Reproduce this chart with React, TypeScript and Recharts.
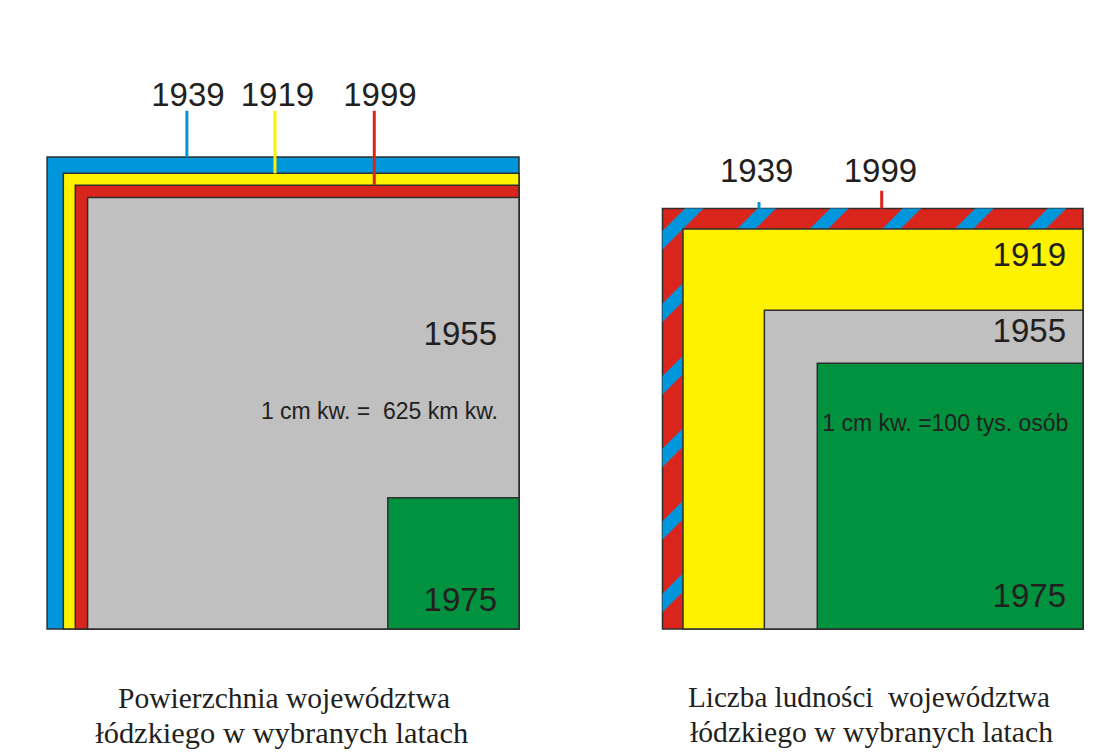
import React from 'react';
import { ComposedChart, XAxis, YAxis, ReferenceArea, ReferenceLine } from 'recharts';

// ---------- data ----------
// Area of the Łódź voivodeship (km²), drawn as squares, 1 cm² = 625 km²
const areaYears = ['1939', '1919', '1999', '1955', '1975'];
const areaKm2 = [20700, 19300, 18300, 17300, 1600];
const KM2_PER_CM2 = 625;

// Population of the Łódź voivodeship, 1 cm² = 100 000 persons
const popYears = ['1999', '1939', '1919', '1955', '1975'];
const popPersons = [2630000, 2630000, 2380000, 1510000, 1050000];
const PERSONS_PER_CM2 = 100000;

const areaNote = '1 cm kw. =  625 km kw.';
const popNote = '1 cm kw. =100 tys. osób';
const areaTitle = ['Powierzchnia województwa', 'łódzkiego w wybranych latach'];
const popTitle = ['Liczba ludności  województwa', 'łódzkiego w wybranych latach'];

// ---------- styles / layout ----------
const PX_PER_CM = 82;
const SANS = '"Liberation Sans", Arial, Helvetica, sans-serif';
const SERIF = '"Liberation Serif", "Times New Roman", serif';
const TEXT = '#231f20';
const EDGE = '#2e2e2e';
const yearColor: Record<string, string> = {
  '1939': '#0096db',
  '1919': '#fff200',
  '1999': '#da251d',
  '1955': '#c0c0c0',
  '1975': '#00923f',
};

const sideCm = (v: number, unit: number) => Math.sqrt(v / unit);

type InnerLabel = { right: number; fromTop?: number; fromBottom?: number; note?: { text: string; anchor: 'start' | 'end'; dx: number; dy: number } };
type Callout = { year: string; x: number; top: number; labelDx: number; labelGap: number };

const leftInner: Record<string, InnerLabel> = {
  '1955': { right: 22, fromTop: 147, note: { text: areaNote, anchor: 'end', dx: -21, dy: 221 } },
  '1975': { right: 22, fromBottom: 18 },
};
const rightInner: Record<string, InnerLabel> = {
  '1919': { right: 17, fromTop: 37 },
  '1955': { right: 17, fromTop: 32 },
  '1975': { right: 17, fromBottom: 22, note: { text: popNote, anchor: 'start', dx: 5, dy: 68 } },
};
const leftCallouts: Callout[] = [
  { year: '1939', x: -4.05, top: 6.32, labelDx: 1, labelGap: 4.7 },
  { year: '1919', x: -2.976, top: 6.32, labelDx: 2.5, labelGap: 4.7 },
  { year: '1999', x: -1.765, top: 6.32, labelDx: 5.7, labelGap: 4.7 },
];
const rightCallouts: Callout[] = [
  { year: '1939', x: -3.951, top: 5.207, labelDx: -2.3, labelGap: 19.7 },
  { year: '1999', x: -2.455, top: 5.345, labelDx: -1.2, labelGap: 8.4 },
];

const innerLabel = (year: string, cfg?: InnerLabel) => (props: any) => {
  const vb = props && props.viewBox;
  if (!vb || !cfg) return null;
  const y = cfg.fromTop != null ? vb.y + cfg.fromTop : vb.y + vb.height - (cfg.fromBottom || 0);
  return (
    <g>
      <text x={vb.x + vb.width - cfg.right} y={y} textAnchor="end" fontFamily={SANS} fontSize={33} fill={TEXT}>
        {year}
      </text>
      {cfg.note ? (
        <text
          x={cfg.note.anchor === 'end' ? vb.x + vb.width + cfg.note.dx : vb.x + cfg.note.dx}
          y={vb.y + cfg.note.dy}
          textAnchor={cfg.note.anchor}
          fontFamily={SANS}
          fontSize={23}
          fill={TEXT}
          style={{ whiteSpace: 'pre' }}
        >
          {cfg.note.text}
        </text>
      ) : null}
    </g>
  );
};

const calloutLabel = (c: Callout) => (props: any) => {
  const vb = props && props.viewBox;
  if (!vb) return null;
  return (
    <text x={vb.x + c.labelDx} y={vb.y - c.labelGap} textAnchor="middle" fontFamily={SANS} fontSize={33} fill={TEXT}>
      {c.year}
    </text>
  );
};

function Panel(props: {
  years: string[];
  values: number[];
  unit: number;
  width: number;
  plotW: number;
  plotH: number;
  inner: Record<string, InnerLabel>;
  callouts: Callout[];
  striped?: string;
}) {
  const { years, values, unit, width, plotW, plotH, inner, callouts, striped } = props;
  const sides = values.map((v) => sideCm(v, unit));
  const sideOf: Record<string, number> = {};
  years.forEach((y, i) => (sideOf[y] = sides[i]));
  const data = years.map((y, i) => ({ x: -sides[i], y: sides[i] }));
  return (
    <ComposedChart
      width={width}
      height={754}
      data={data}
      margin={{ top: 0, left: 0, right: width - plotW, bottom: 754 - plotH }}
    >
      <XAxis type="number" dataKey="x" domain={[-plotW / PX_PER_CM, 0]} allowDataOverflow hide />
      <YAxis type="number" dataKey="y" domain={[0, plotH / PX_PER_CM]} allowDataOverflow hide />
      {years.map((y, i) => (
        <ReferenceArea
          key={y}
          x1={-sides[i]}
          x2={0}
          y1={0}
          y2={sides[i]}
          fill={y === striped ? `url(#stripes${y})` : yearColor[y]}
          fillOpacity={1}
          stroke={y === striped ? 'none' : EDGE}
          strokeWidth={1.5}
          isAnimationActive={false}
          label={inner[y] ? innerLabel(y, inner[y]) : undefined}
        />
      ))}
      {callouts.map((c) => (
        <ReferenceLine
          key={'c' + c.year}
          segment={[
            { x: c.x, y: sideOf[c.year] },
            { x: c.x, y: c.top },
          ]}
          stroke={yearColor[c.year]}
          strokeWidth={3}
          ifOverflow="visible"
          label={calloutLabel(c)}
        />
      ))}
    </ComposedChart>
  );
}

export default function App() {
  return (
    <div style={{ position: 'absolute', left: 0, top: 0, width: 1095, height: 754, background: '#fff', overflow: 'hidden' }}>
      <svg width={1095} height={754} style={{ position: 'absolute', left: 0, top: 0 }}>
        <defs>
          <pattern id="stripes1939" patternUnits="userSpaceOnUse" width={51.3} height={51.3} patternTransform="rotate(45)">
            <rect x={30.6} y={0} width={13} height={51.3} fill={yearColor['1939']} />
          </pattern>
        </defs>
        <g fontFamily={SERIF} fontSize={30} fill={TEXT} textAnchor="middle">
          <text x={284} y={707.7} textLength={332} lengthAdjust="spacingAndGlyphs">{areaTitle[0]}</text>
          <text x={281.7} y={742.7} textLength={373} lengthAdjust="spacingAndGlyphs">{areaTitle[1]}</text>
          <text x={869} y={706.7} textLength={362} lengthAdjust="spacingAndGlyphs" style={{ whiteSpace: 'pre' }}>{popTitle[0]}</text>
          <text x={871.5} y={741.7} textLength={363} lengthAdjust="spacingAndGlyphs">{popTitle[1]}</text>
        </g>
      </svg>
      <div style={{ position: 'absolute', left: 0, top: 0 }}>
        <Panel
          years={areaYears}
          values={areaKm2}
          unit={KM2_PER_CM2}
          width={540}
          plotW={519}
          plotH={629}
          inner={leftInner}
          callouts={leftCallouts}
        />
      </div>
      <div style={{ position: 'absolute', left: 560, top: 0 }}>
        <Panel
          years={popYears}
          values={popPersons}
          unit={PERSONS_PER_CM2}
          width={535}
          plotW={523}
          plotH={629}
          inner={rightInner}
          callouts={rightCallouts}
          striped="1939"
        />
      </div>
    </div>
  );
}
